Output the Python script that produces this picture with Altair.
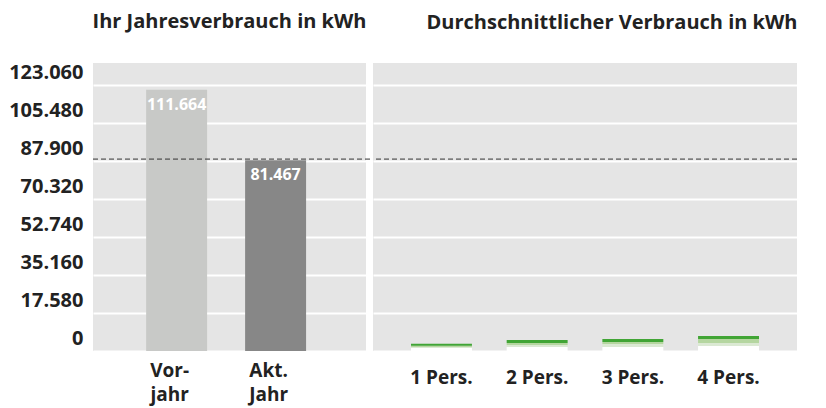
import json
import altair as alt
import pandas as pd

# ---------------- data ----------------
left_categories = ["Vorjahr", "Akt. Jahr"]
left_tick_labels = [["Vor-", "jahr"], ["Akt.", "Jahr"]]
left_values = [111664, 81467]
left_value_labels = ["111.664", "81.467"]
left_colors = ["#c8c9c7", "#878787"]

persons = ["1 Pers.", "2 Pers.", "3 Pers.", "4 Pers."]
segments = ["Stufe 1", "Stufe 2", "Stufe 3", "Stufe 4"]
segment_colors = ["#ffffff", "#dbe9d3", "#b5d6a0", "#41a535"]
seg_1 = [1300, 1700, 1700, 2100]
seg_2 = [450, 850, 1300, 1300]
seg_3 = [450, 850, 850, 1700]
seg_4 = [850, 1300, 1300, 1300]

y_tick_labels = ["0", "17.580", "35.160", "52.740", "70.320", "87.900", "105.480", "123.060"]
grid_step = 16240
y_max = 123060
reference_value = 82000

# ---------------- tables ----------------
df_left = pd.DataFrame({
    "cat": left_categories,
    "val": left_values,
    "lab": left_value_labels,
})
rows = []
for i, p in enumerate(persons):
    for j, (s, v) in enumerate(zip(segments, [seg_1[i], seg_2[i], seg_3[i], seg_4[i]])):
        rows.append({"pers": p, "seg": s, "ord": j, "val": v})
df_right = pd.DataFrame(rows)
df_ref = pd.DataFrame({"ref": [reference_value]})

FONT = "Open Sans"
TXT = "#222222"

label_map = {c: l for c, l in zip(left_categories, left_tick_labels)}
left_label_expr = "(" + json.dumps(label_map) + ")[datum.label]"
y_label_expr = json.dumps(y_tick_labels) + f"[round(datum.value / {grid_step})]"

y_scale = alt.Scale(domain=[0, y_max], nice=False, zero=True)
y_values = [k * grid_step for k in range(len(y_tick_labels))]

W_L, W_R, H = 273, 424, 288
GAP = 7

# ---------------- left panel ----------------
x_left = alt.X(
    "cat:N", sort=left_categories,
    scale=alt.Scale(paddingInner=0.384, paddingOuter=0.571, align=0.47),
    axis=alt.Axis(title=None, labelExpr=left_label_expr, labelAngle=0, domain=False,
                  ticks=False, labelPadding=10, labelFontSize=19, labelFont=FONT,
                  labelFontWeight="bold", labelColor=TXT, labelLineHeight=24,
                  labelBaseline="top", labelOffset=-7),
)
y_left = alt.Y(
    "val:Q", scale=y_scale,
    axis=alt.Axis(title=None, values=y_values, labelExpr=y_label_expr, grid=True,
                  gridColor="white", gridWidth=2, domain=False, ticks=False,
                  labelPadding=10, labelOffset=-12.5, labelFontSize=20, labelFont=FONT,
                  labelFontWeight="bold", labelColor=TXT, labelBaseline="middle"),
)

bars_left = alt.Chart(df_left).mark_bar().encode(
    x=x_left, y=y_left,
    color=alt.Color("cat:N", scale=alt.Scale(domain=left_categories, range=left_colors), legend=None),
)
text_left = alt.Chart(df_left).mark_text(
    font=FONT, fontSize=16, fontWeight="bold", color="white", baseline="top", dy=7
).encode(x=alt.X("cat:N", sort=left_categories), y=alt.Y("val:Q", scale=y_scale), text="lab:N")
rule_left = alt.Chart(df_ref).mark_rule(color="#333333", strokeDash=[5, 3], strokeWidth=1).encode(
    y=alt.Y("ref:Q", scale=y_scale), x=alt.value(0), x2=alt.value(W_L + GAP)
)

left = alt.layer(bars_left, text_left, rule_left).properties(
    width=W_L, height=H,
    title=alt.TitleParams("Ihr Jahresverbrauch in kWh", anchor="middle"),
)

# ---------------- right panel ----------------
x_right = alt.X(
    "pers:N", sort=persons,
    scale=alt.Scale(paddingInner=0.363, paddingOuter=0.397, align=0.5),
    axis=alt.Axis(title=None, labelAngle=0, domain=False, ticks=False, labelPadding=17,
                  labelFontSize=19, labelFont=FONT, labelFontWeight="bold",
                  labelColor=TXT, labelBaseline="top"),
)
y_right = alt.Y(
    "val:Q", scale=y_scale, stack="zero",
    axis=alt.Axis(title=None, values=y_values, labels=False, grid=True, gridColor="white",
                  gridWidth=2, domain=False, ticks=False, minExtent=0),
)
bars_right = alt.Chart(df_right).mark_bar().encode(
    x=x_right, y=y_right,
    color=alt.Color("seg:N", scale=alt.Scale(domain=segments, range=segment_colors), legend=None),
    order=alt.Order("ord:Q", sort="ascending"),
)
rule_right = alt.Chart(df_ref).mark_rule(color="#333333", strokeDash=[5, 3], strokeWidth=1).encode(
    y=alt.Y("ref:Q", scale=y_scale)
)
right = alt.layer(bars_right, rule_right).properties(
    width=W_R, height=H,
    title=alt.TitleParams("Durchschnittlicher Verbrauch in kWh", anchor="end"),
)

chart = alt.hconcat(left, right, spacing=GAP, bounds="flush").resolve_scale(
    color="independent", x="independent"
).properties(
    padding={"left": 0, "top": 4, "right": 0, "bottom": 2}
).configure_view(
    fill="#e5e5e5", strokeWidth=0
).configure_title(
    font=FONT, fontSize=20, fontWeight="bold", color=TXT, offset=30
)

chart.save("out.html", embed_options={"renderer": "svg", "actions": False})
